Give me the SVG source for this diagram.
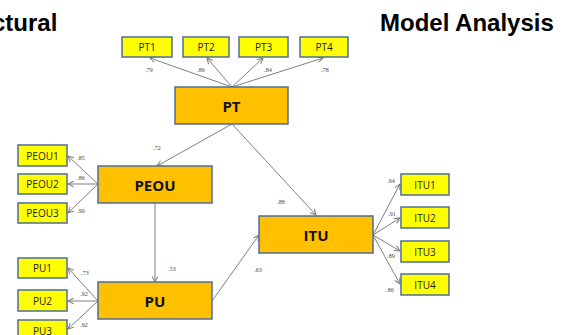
<svg xmlns="http://www.w3.org/2000/svg" width="572" height="335" viewBox="0 0 572 335">
<style>
.title{font-family:"Liberation Sans",Arial,sans-serif;font-weight:bold;font-size:24px;fill:#000}
.ind rect{fill:#FFFF00;stroke:#4F6E99;stroke-width:1.5}
.lat rect{fill:#FFC000;stroke:#4F6E99;stroke-width:1.5}
.ind text{font-family:"Open Sans","Liberation Sans",sans-serif;font-size:10px;fill:#222;text-anchor:middle;dominant-baseline:central}
.lat text{font-family:"Open Sans","Liberation Sans",sans-serif;font-size:15px;font-weight:bold;fill:#111;text-anchor:middle;dominant-baseline:central}
.conn line{stroke:#808080;stroke-width:1;marker-end:url(#ah)}
.lbl{font-family:"Liberation Serif",serif;font-size:6px;fill:#444;text-anchor:middle}
</style>
<defs>
<marker id="ah" viewBox="0 0 10 10" refX="9" refY="5" markerWidth="7" markerHeight="7" orient="auto-start-reverse" markerUnits="userSpaceOnUse">
<path d="M1,1 L9,5 L1,9" fill="none" stroke="#808080" stroke-width="1.5"/>
</marker>
</defs>
<rect width="572" height="335" fill="#fff"/>
<text class="title" x="-8" y="31">ctural</text>
<text class="title" x="380" y="31">Model Analysis</text>

<g id="connectors" class="conn">
<line x1="232" y1="87" x2="150" y2="58"/>
<line x1="232" y1="87" x2="207" y2="58"/>
<line x1="232" y1="87" x2="263" y2="58"/>
<line x1="232" y1="87" x2="323" y2="58"/>
<line x1="232" y1="124" x2="157" y2="166"/>
<line x1="232" y1="124" x2="316" y2="215"/>
<line x1="98" y1="184" x2="68" y2="156"/>
<line x1="98" y1="184" x2="68" y2="184"/>
<line x1="98" y1="184" x2="68" y2="213"/>
<line x1="155" y1="203" x2="155" y2="282"/>
<line x1="98" y1="301" x2="68" y2="268"/>
<line x1="98" y1="301" x2="68" y2="301"/>
<line x1="98" y1="301" x2="68" y2="329"/>
<line x1="212" y1="301" x2="259" y2="235"/>
<line x1="373" y1="235" x2="400" y2="184"/>
<line x1="373" y1="235" x2="400" y2="218"/>
<line x1="373" y1="235" x2="400" y2="251"/>
<line x1="373" y1="235" x2="400" y2="284"/>
</g>

<g id="labels">
<text class="lbl" x="149" y="72">.79</text>
<text class="lbl" x="201" y="72">.86</text>
<text class="lbl" x="268" y="72">.84</text>
<text class="lbl" x="325" y="72">.78</text>
<text class="lbl" x="157" y="150">.72</text>
<text class="lbl" x="81" y="160">.85</text>
<text class="lbl" x="81" y="180">.86</text>
<text class="lbl" x="81" y="213">.90</text>
<text class="lbl" x="172" y="271">.53</text>
<text class="lbl" x="85" y="275">.73</text>
<text class="lbl" x="84" y="296">.92</text>
<text class="lbl" x="84" y="327">.92</text>
<text class="lbl" x="281" y="204">.88</text>
<text class="lbl" x="258" y="272">.63</text>
<text class="lbl" x="391" y="183">.94</text>
<text class="lbl" x="392" y="216">.91</text>
<text class="lbl" x="391" y="258">.89</text>
<text class="lbl" x="390" y="292">.86</text>
</g>

<g id="PT1" class="ind"><rect x="122" y="37" width="50" height="20"/><text x="147" y="47">PT1</text></g>
<g id="PT2" class="ind"><rect x="183" y="37" width="46" height="20"/><text x="206" y="47">PT2</text></g>
<g id="PT3" class="ind"><rect x="239" y="37" width="49" height="20"/><text x="263.5" y="47">PT3</text></g>
<g id="PT4" class="ind"><rect x="300" y="37" width="48" height="20"/><text x="324" y="47">PT4</text></g>
<g id="PT" class="lat"><rect x="175" y="87" width="113" height="37"/><text x="231.5" y="105.5">PT</text></g>

<g id="PEOU1" class="ind"><rect x="18" y="145" width="49" height="21"/><text x="42.5" y="155.5">PEOU1</text></g>
<g id="PEOU2" class="ind"><rect x="18" y="174" width="49" height="20"/><text x="42.5" y="184">PEOU2</text></g>
<g id="PEOU3" class="ind"><rect x="18" y="203" width="49" height="20"/><text x="42.5" y="213">PEOU3</text></g>
<g id="PEOU" class="lat"><rect x="98" y="166" width="114" height="37"/><text x="155" y="184.5">PEOU</text></g>

<g id="PU1" class="ind"><rect x="18" y="258" width="49" height="20"/><text x="42.5" y="268">PU1</text></g>
<g id="PU2" class="ind"><rect x="18" y="290" width="49" height="21"/><text x="42.5" y="300.5">PU2</text></g>
<g id="PU3" class="ind"><rect x="18" y="320" width="49" height="21"/><text x="42.5" y="330.5">PU3</text></g>
<g id="PU" class="lat"><rect x="98" y="282" width="114" height="37"/><text x="155" y="300.5">PU</text></g>

<g id="ITU" class="lat"><rect x="259" y="216" width="114" height="37"/><text x="316" y="234.5">ITU</text></g>
<g id="ITU1" class="ind"><rect x="401" y="174" width="48" height="21"/><text x="425" y="184.5">ITU1</text></g>
<g id="ITU2" class="ind"><rect x="401" y="207" width="48" height="21"/><text x="425" y="217.5">ITU2</text></g>
<g id="ITU3" class="ind"><rect x="401" y="241" width="48" height="21"/><text x="425" y="251.5">ITU3</text></g>
<g id="ITU4" class="ind"><rect x="401" y="274" width="48" height="21"/><text x="425" y="284.5">ITU4</text></g>
</svg>
